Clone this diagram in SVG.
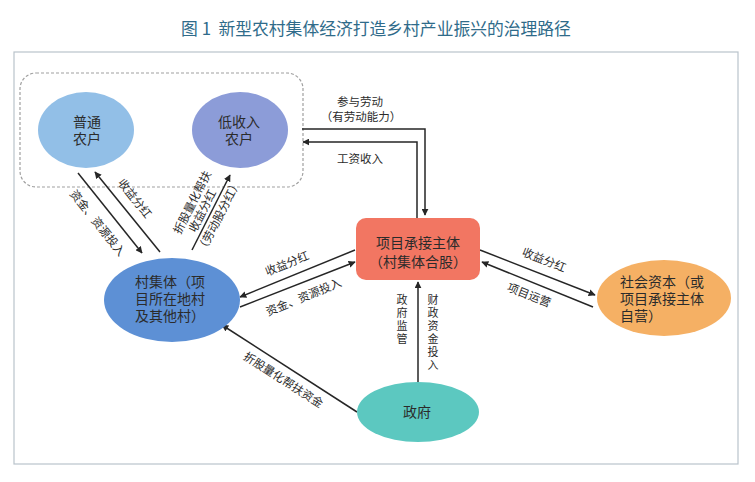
<svg xmlns="http://www.w3.org/2000/svg" width="755" height="482" viewBox="0 0 755 482">
<style>
text{font-family:"Noto Sans CJK SC","Noto Sans",sans-serif;fill:#2b2b2b}
.n{font-size:14px}
.l{font-size:11.5px}
.v{font-size:11px;writing-mode:vertical-rl;letter-spacing:2px}
.c{stroke:#262626;stroke-width:1.5;fill:none}
</style>
<defs>
<marker id="ah" viewBox="0 0 10 10" refX="9" refY="5" markerWidth="7" markerHeight="7" markerUnits="userSpaceOnUse" orient="auto">
<path d="M0,0 L10,5 L0,10 Z" fill="#262626"/>
</marker>
</defs>
<rect width="755" height="482" fill="#ffffff"/>
<text x="376" y="35" text-anchor="middle" style="font-size:16.8px;fill:#2f6b8a" xml:space="preserve">图 1  新型农村集体经济打造乡村产业振兴的治理路径</text>
<rect x="14" y="52" width="724" height="412" fill="none" stroke="#b9c3cb" stroke-width="1.2"/>
<rect id="farmers-group" x="20" y="73" width="283" height="114" rx="16" fill="none" stroke="#a0a0a0" stroke-width="1.2" stroke-dasharray="3,2"/>

<g id="connectors">
<line class="c" x1="78" y1="173" x2="142" y2="253" marker-end="url(#ah)"/>
<line class="c" x1="160" y1="252" x2="95" y2="172" marker-end="url(#ah)"/>
<line class="c" x1="192" y1="250" x2="230" y2="175" marker-end="url(#ah)"/>
<polyline class="c" points="302,129 425,129 425,215" marker-end="url(#ah)"/>
<polyline class="c" points="417,218 417,142 303,142" marker-end="url(#ah)"/>
<line class="c" x1="355" y1="250" x2="240" y2="297" marker-end="url(#ah)"/>
<line class="c" x1="240" y1="307" x2="355" y2="262" marker-end="url(#ah)"/>
<line class="c" x1="480" y1="250" x2="595" y2="295" marker-end="url(#ah)"/>
<line class="c" x1="593" y1="307" x2="482" y2="262" marker-end="url(#ah)"/>
<line class="c" x1="418" y1="382" x2="418" y2="282" marker-end="url(#ah)"/>
<line class="c" x1="357" y1="412" x2="222" y2="325" marker-end="url(#ah)"/>
</g>

<g id="labels">
<g transform="translate(110,213) rotate(51.3)"><text class="l" x="0" y="20" text-anchor="middle">资金、资源投入</text></g>
<g transform="translate(127.5,212) rotate(51.3)"><text class="l" x="-6" y="-10" text-anchor="middle">收益分红</text></g>
<g transform="translate(211,212) rotate(-63)">
<text class="l" x="0" y="-17" text-anchor="middle">折股量化帮扶</text>
<text class="l" x="-3" y="-4" text-anchor="middle">收益分红</text>
<text class="l" x="0" y="13" text-anchor="middle">（劳动股分红）</text>
</g>
<text class="l" x="360" y="106" text-anchor="middle">参与劳动</text>
<text class="l" x="361" y="121" text-anchor="middle">（有劳动能力）</text>
<text class="l" x="360" y="163" text-anchor="middle">工资收入</text>
<g transform="translate(297.5,273.5) rotate(-22.2)"><text class="l" x="-6" y="-9" text-anchor="middle">收益分红</text></g>
<g transform="translate(297.5,284.5) rotate(-22.2)"><text class="l" x="1" y="18" text-anchor="middle">资金、资源投入</text></g>
<g transform="translate(537.5,272.5) rotate(21.4)"><text class="l" x="1.5" y="-10" text-anchor="middle">收益分红</text></g>
<g transform="translate(537.5,284.5) rotate(21.4)"><text class="l" x="-4" y="17" text-anchor="middle">项目运营</text></g>
<g transform="translate(289.5,368.5) rotate(32.8)"><text class="l" x="1" y="17" text-anchor="middle">折股量化帮扶资金</text></g>
<text class="v" x="402" y="294">政府监管</text>
<text class="v" x="433" y="294">财政资金投入</text>
</g>

<g id="node-ordinary">
<ellipse cx="86" cy="130" rx="48" ry="38" fill="#92bfe7"/>
<text class="n" text-anchor="middle"><tspan x="87" y="126.5">普通</tspan><tspan x="87" y="143.5">农户</tspan></text>
</g>
<g id="node-lowincome">
<ellipse cx="240" cy="130" rx="48" ry="38" fill="#8c9cd8"/>
<text class="n" text-anchor="middle"><tspan x="239" y="126.5">低收入</tspan><tspan x="239" y="143.5">农户</tspan></text>
</g>
<g id="node-village">
<ellipse cx="172" cy="300" rx="68" ry="42" fill="#5d90d5"/>
<text class="n"><tspan x="135" y="286.5">村集体（项</tspan><tspan x="135" y="303.5">目所在地村</tspan><tspan x="135" y="320.5">及其他村）</tspan></text>
</g>
<g id="node-project">
<rect x="356" y="218" width="124" height="62" rx="10" fill="#f27662"/>
<text class="n" text-anchor="middle"><tspan x="418" y="247.5">项目承接主体</tspan><tspan x="418" y="267">（村集体合股）</tspan></text>
</g>
<g id="node-social">
<ellipse cx="664" cy="298" rx="67" ry="38" fill="#f5b064"/>
<text class="n"><tspan x="620" y="286.5">社会资本（或</tspan><tspan x="620" y="303.5">项目承接主体</tspan><tspan x="620" y="320.5">自营）</tspan></text>
</g>
<g id="node-gov">
<ellipse cx="418" cy="412" rx="61" ry="30" fill="#5cc8c0"/>
<text class="n" x="417" y="417" text-anchor="middle">政府</text>
</g>
</svg>
